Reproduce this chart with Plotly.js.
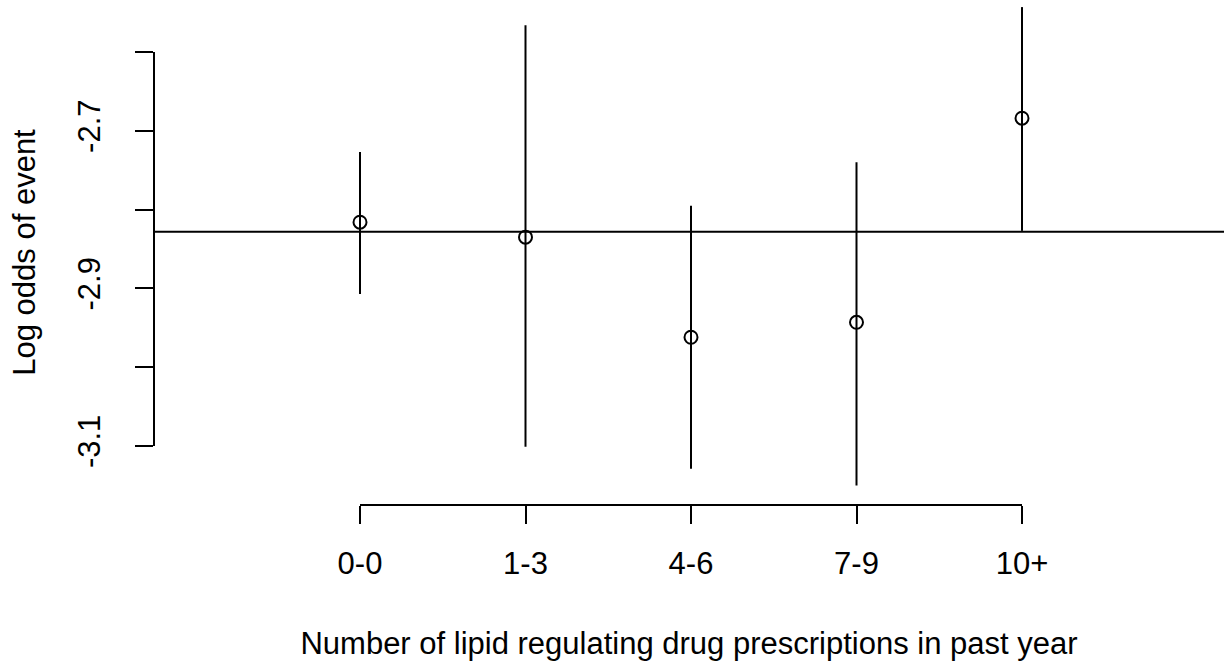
<!DOCTYPE html>
<html>
<head>
<meta charset="utf-8">
<script src="https://cdn.plot.ly/plotly-3.0.1.min.js"></script>
<style>html,body{margin:0;padding:0;background:#fff;}#chart{width:1224px;height:663px;}</style>
</head>
<body>
<div id="chart"></div>
<script>
// Data
const categories = ["0-0", "1-3", "4-6", "7-9", "10+"];
const estimate = [-2.816, -2.835, -2.962, -2.943, -2.684];
const lower = [-2.907, -3.101, -3.129, -3.150, -2.827];
const upper = [-2.727, -2.566, -2.795, -2.740, -2.543];
const referenceLine = -2.828;
const yTickValues = [-3.1, -3.0, -2.9, -2.8, -2.7, -2.6];
const yTickLabels = ["-3.1", "", "-2.9", "", "-2.7", ""];

const xPos = categories.map((c, i) => i);
const errPlus = upper.map((u, i) => u - estimate[i]);
const errMinus = lower.map((l, i) => estimate[i] - l);

const FONT = "'Liberation Sans', Arial, Helvetica, sans-serif";
const FS = 31;
const LW = 2;

const trace = {
  type: "scatter",
  mode: "markers",
  x: xPos,
  y: estimate,
  marker: {symbol: "circle-open", size: 13, color: "#000", line: {width: LW, color: "#000"}},
  error_y: {type: "data", symmetric: false, array: errPlus, arrayminus: errMinus,
            width: 0, thickness: LW, color: "#000"},
  hoverinfo: "x+y",
  cliponaxis: true,
  showlegend: false
};

const layout = {
  width: 1224, height: 663,
  margin: {l: 154, r: 0, t: 0, b: 158, pad: 0},
  paper_bgcolor: "#fff", plot_bgcolor: "#fff",
  font: {family: FONT, size: FS, color: "#000"},
  showlegend: false,
  xaxis: {
    range: [-1.2447, 5.2205],
    tickmode: "array", tickvals: xPos, ticktext: categories,
    ticks: "outside", ticklen: 18, tickwidth: LW, tickcolor: "#000",
    ticklabelstandoff: 13,
    showline: false, showgrid: false, zeroline: false,
    tickfont: {family: FONT, size: FS, color: "#000"},
    title: {text: "Number of lipid regulating drug prescriptions in past year",
            font: {family: FONT, size: FS, color: "#000"}, standoff: 52},
    automargin: false, fixedrange: true
  },
  yaxis: {
    range: [-3.1749, -2.534],
    tickmode: "array", tickvals: yTickValues, ticktext: yTickLabels,
    ticks: "outside", ticklen: 18, tickwidth: LW, tickcolor: "#000",
    tickangle: -90,
    ticklabelstandoff: 23,
    showline: false, showgrid: false, zeroline: false,
    tickfont: {family: FONT, size: FS, color: "#000"},
    title: {text: "Log odds of event", font: {family: FONT, size: FS, color: "#000"}, standoff: 26},
    automargin: false, fixedrange: true
  },
  shapes: [
    {type: "line", xref: "x", yref: "paper", x0: xPos[0], x1: xPos[xPos.length - 1], y0: 0, y1: 0,
     line: {color: "#000", width: LW}},
    {type: "line", xref: "paper", yref: "y", x0: 0, x1: 0, y0: yTickValues[0], y1: yTickValues[yTickValues.length - 1],
     line: {color: "#000", width: LW}},
    {type: "line", xref: "paper", yref: "y", x0: 0, x1: 1, y0: referenceLine, y1: referenceLine,
     line: {color: "#000", width: LW}, layer: "below"}
  ]
};

Plotly.newPlot("chart", [trace], layout, {displayModeBar: false, staticPlot: true});
</script>
</body>
</html>
